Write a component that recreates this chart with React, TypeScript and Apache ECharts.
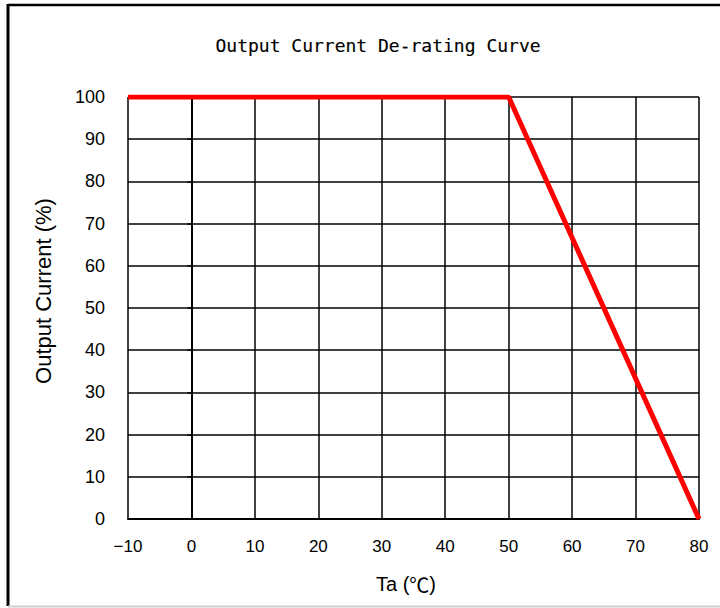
import React, { useEffect, useRef } from "react";
import * as echarts from "echarts";

const titleText = "Output Current De-rating Curve";
const xAxisTitleParts = ["Ta (", "℃", ")"];
const yAxisTitle = "Output Current (%)";
const temperatures = [-10, 50, 80];
const currentPercent = [100, 100, 0];

export default function App() {
  const ref = useRef<HTMLDivElement>(null);
  useEffect(() => {
    if (!ref.current) return;
    const chart = echarts.init(ref.current, null, { renderer: "svg" });
    const data = temperatures.map((t, i) => [t, currentPercent[i]]);
    chart.setOption({
      animation: false,
      backgroundColor: "#ffffff",
      grid: { left: 128, top: 97, right: 21, bottom: 89 },
      xAxis: {
        type: "value",
        min: -10,
        max: 80,
        interval: 10,
        axisLine: { show: true, onZero: false, lineStyle: { color: "#000", width: 2 } },
        axisTick: { show: false },
        splitLine: { show: true, lineStyle: { color: "#000", width: 1.5 } },
        axisLabel: {
          color: "#000",
          fontSize: 17,
          fontFamily: "Liberation Sans",
          margin: 19,
          formatter: (v: number) => (v < 0 ? "−" + Math.abs(v) : String(v)),
        },
      },
      yAxis: {
        type: "value",
        min: 0,
        max: 100,
        interval: 10,
        axisLine: { show: true, lineStyle: { color: "#000", width: 2 } },
        axisTick: { show: true, length: 4, inside: false, lineStyle: { color: "#000", width: 1.5 } },
        splitLine: { show: true, lineStyle: { color: "#000", width: 1.5 } },
        axisLabel: {
          color: "#000",
          fontSize: 18,
          fontFamily: "Liberation Sans",
          margin: 23,
        },
      },
      graphic: [
        { type: "line", shape: { x1: 8, y1: 5, x2: 720, y2: 5 }, style: { stroke: "#000", lineWidth: 2.5 } },
        { type: "line", shape: { x1: 8, y1: 4, x2: 8, y2: 606 }, style: { stroke: "#000", lineWidth: 3 } },
        { type: "line", shape: { x1: 8, y1: 606.5, x2: 720, y2: 606.5 }, style: { stroke: "#cfcfcf", lineWidth: 2 } },
        {
          type: "text",
          x: 378,
          y: 45,
          style: {
            text: titleText,
            fill: "#000",
            stroke: "#000",
            lineWidth: 0.15,
            font: "18px 'DejaVu Sans Mono'",
            textAlign: "center",
            textVerticalAlign: "middle",
          },
        },
        {
          type: "text",
          x: 406,
          y: 584,
          style: {
            text: "{a|" + xAxisTitleParts[0] + "}{b|" + xAxisTitleParts[1] + "}{a|" + xAxisTitleParts[2] + "}",
            textAlign: "center",
            textVerticalAlign: "middle",
            rich: {
              a: { fontSize: 20, fontFamily: "Liberation Sans", fill: "#000" },
              b: { fontSize: 20, fontFamily: "Noto Sans CJK JP", fill: "#000" },
            },
          },
        },
        {
          type: "text",
          x: 43,
          y: 291,
          rotation: Math.PI / 2,
          style: {
            text: yAxisTitle,
            fill: "#000",
            font: "22px 'Liberation Sans'",
            textAlign: "center",
            textVerticalAlign: "middle",
          },
        },
      ],
      series: [
        {
          type: "line",
          data,
          symbol: "none",
          lineStyle: { color: "#ff0000", width: 5 },
          z: 10,
        },
      ],
    });
    return () => chart.dispose();
  }, []);
  return (
    <div
      ref={ref}
      style={{ position: "fixed", left: 0, top: 0, width: 720, height: 608 }}
    />
  );
}
